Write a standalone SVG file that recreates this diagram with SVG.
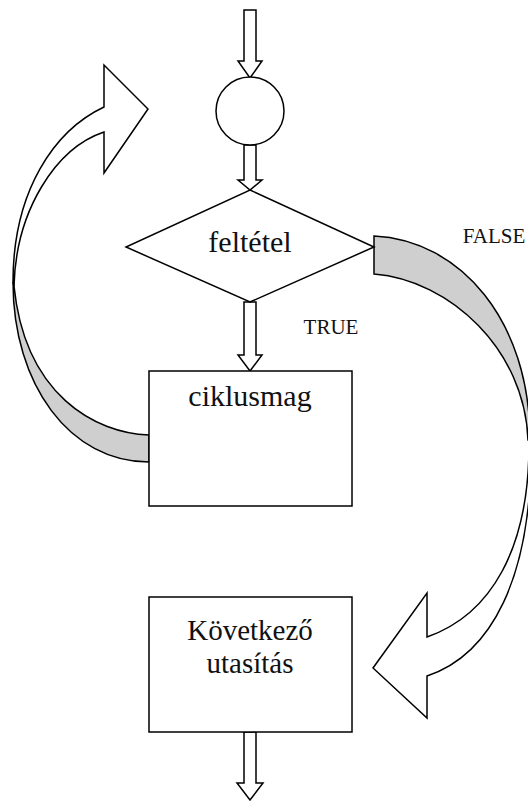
<svg xmlns="http://www.w3.org/2000/svg" width="528" height="801" viewBox="0 0 528 801">
  <style>
    .shape { fill: #ffffff; stroke: #000000; stroke-width: 1.5; stroke-linejoin: miter; }
    .back { fill: #cfcfcf; stroke: #000000; stroke-width: 1.5; }
    .label { fill: #111111; text-anchor: middle; }
  </style>

  <rect x="0" y="0" width="528" height="801" fill="#ffffff"/>

  <!-- flow connectors: block arrows and the two curved arrows -->
  <g id="connectors">
    <!-- entry arrow into the loop start -->
    <polygon class="shape" points="244,10 256,10 256,61 262,61 250,78 238,61 244,61"/>
    <!-- start point to condition -->
    <polygon class="shape" points="244,145 256,145 256,180 262,180 250,190 238,180 244,180"/>
    <!-- condition (TRUE) to loop body -->
    <polygon class="shape" points="244,302 256,302 256,355 262,355 250,371 238,355 244,355"/>
    <!-- exit arrow after next statement -->
    <polygon class="shape" points="244,732 256,732 256,783 263,783 250,800 237,783 244,783"/>

    <!-- loop-back curved arrow: shaded underside, then front band with head -->
    <path class="back" d="M149,462 C70,462 13,385 13,282 L14,286 C25,395 95,433 149,435 Z"/>
    <path class="shape" d="M13,282 C13,190 55,130 104,107 L104,65 L148,109 L104,173 L104,132 C56,148 16,210 14,286 Z"/>

    <!-- FALSE branch curved arrow: shaded underside, then front band with head -->
    <path class="back" d="M374,236 C460,240 530,320 530,440 L528,440 C525,350 450,280 374,274 Z"/>
    <path class="shape" d="M529,440 C530,550 490,615 427,637 L427,593 L373,668 L427,718 L427,676 C490,655 533,580 531,440 Z"/>

    <text class="label" font-family="Liberation Serif, DejaVu Serif, serif" font-size="21" x="331" y="334">TRUE</text>
    <text class="label" font-family="Liberation Serif, DejaVu Serif, serif" font-size="21" x="494" y="243">FALSE</text>
  </g>

  <!-- loop start point -->
  <g id="start">
    <circle class="shape" cx="250" cy="111" r="34"/>
  </g>

  <!-- loop condition -->
  <g id="condition">
    <polygon class="shape" points="250,190 374,247 250,302 126,247"/>
    <text class="label" font-family="Liberation Serif, DejaVu Serif, serif" font-size="30" x="250" y="252">feltétel</text>
  </g>

  <!-- loop body -->
  <g id="body">
    <rect class="shape" x="149" y="371" width="203" height="135"/>
    <text class="label" font-family="Liberation Serif, DejaVu Serif, serif" font-size="30" x="250" y="406">ciklusmag</text>
  </g>

  <!-- statement after the loop -->
  <g id="next">
    <rect class="shape" x="149" y="597" width="203" height="135"/>
    <text class="label" font-family="Liberation Serif, DejaVu Serif, serif" font-size="29" x="250" y="640">Következő</text>
    <text class="label" font-family="Liberation Serif, DejaVu Serif, serif" font-size="29" x="250" y="673">utasítás</text>
  </g>
</svg>
